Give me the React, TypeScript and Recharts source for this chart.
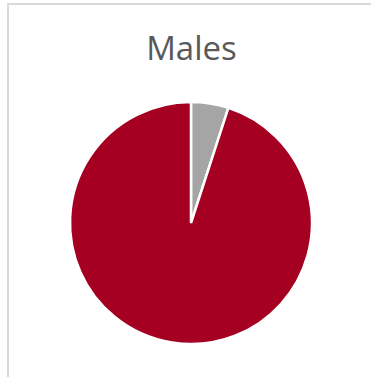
import { PieChart, Pie, Cell } from 'recharts';

const categories = ['Other', 'Main'];
const values = [5, 95];
const colors = ['#A5A5A5', '#A50021'];
const title = 'Males';

const data = categories.map((name, i) => ({ name, value: values[i] }));

export default function App() {
  return (
    <div style={{ position: 'absolute', left: 0, top: 0, width: 371, height: 377, overflow: 'hidden', background: '#fff' }}>
      {/* chart area border, runs off the right and bottom edges */}
      <div
        style={{
          position: 'absolute',
          left: 7,
          top: 3,
          width: 400,
          height: 400,
          borderLeft: '2px solid #D9D9D9',
          borderTop: '2px solid #D9D9D9',
        }}
      />
      <div
        style={{
          position: 'absolute',
          left: 0,
          top: 26,
          width: 383,
          textAlign: 'center',
          fontFamily: '"Open Sans", sans-serif',
          fontSize: 33,
          color: '#595959',
          lineHeight: '44px',
        }}
      >
        {title}
      </div>
      <div style={{ position: 'absolute', left: 0, top: 0 }}>
        <PieChart width={371} height={377} margin={{ top: 0, right: 0, bottom: 0, left: 0 }}>
          <Pie
            data={data}
            dataKey="value"
            nameKey="name"
            cx={191}
            cy={223}
            outerRadius={121}
            startAngle={90}
            endAngle={-270}
            stroke="#FFFFFF"
            strokeWidth={2.5}
            isAnimationActive={false}
          >
            {data.map((d, i) => (
              <Cell key={d.name} fill={colors[i]} />
            ))}
          </Pie>
        </PieChart>
      </div>
    </div>
  );
}
